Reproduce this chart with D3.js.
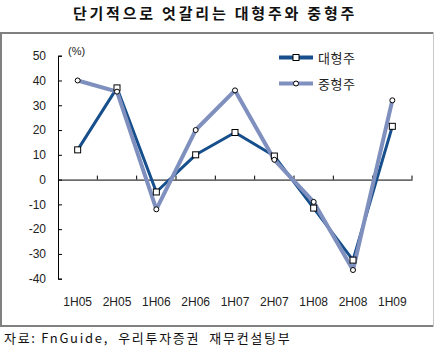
<!DOCTYPE html>
<html>
<head>
<meta charset="utf-8">
<script src="https://cdn.jsdelivr.net/npm/d3@7"></script>
<style>
body { margin: 0; background: #fff; }
text { font-family: "Liberation Sans", Arial, "Noto Sans CJK KR", sans-serif; }
.kr { font-family: "Noto Sans CJK KR", sans-serif; }
</style>
</head>
<body>
<script>
var w = 436;
var h = 359;

// data
var periods = ["1H05", "2H05", "1H06", "2H06", "1H07", "2H07", "1H08", "2H08", "1H09"];
var largeCap = [12, 37, -5, 10, 19, 9.5, -11.5, -32.5, 21.5];
var midCap = [40, 35.5, -12, 20, 36, 8, -9, -36.5, 32];
var yTicks = [50, 40, 30, 20, 10, 0, -10, -20, -30, -40];

var series = [
  {name: "대형주", values: largeCap, color: "#164f8c", width: 3, marker: "square"},
  {name: "중형주", values: midCap, color: "#7f90bf", width: 4, marker: "circle"}
];

var svg = d3.select("body")
            .append("svg")
            .attr("width", w)
            .attr("height", h);

// title
svg.append("text")
   .attr("class", "kr")
   .attr("x", 215)
   .attr("y", 19)
   .attr("text-anchor", "middle")
   .style("font-size", "15px")
   .style("font-weight", "bold")
   .style("letter-spacing", "2.8px")
   .style("white-space", "pre")
   .attr("fill", "#111")
   .text("단기적으로 엇갈리는 대형주와 중형주");

// frame
svg.append("line").attr("x1", 0).attr("x2", 434).attr("y1", 33).attr("y2", 33)
   .style("stroke", "#808080").style("stroke-width", 2);
svg.append("line").attr("x1", 1).attr("x2", 1).attr("y1", 32).attr("y2", 327)
   .style("stroke", "#808080").style("stroke-width", 2);
svg.append("line").attr("x1", 0).attr("x2", 434).attr("y1", 326).attr("y2", 326)
   .style("stroke", "#808080").style("stroke-width", 2);
svg.append("line").attr("x1", 433.5).attr("x2", 433.5).attr("y1", 32).attr("y2", 327)
   .style("stroke", "#c8c8c8").style("stroke-width", 1);

// scales
var x = d3.scaleBand().domain(periods).range([58, 412]);
var y = d3.scaleLinear().domain([-40, 50]).range([278.7, 55.7]);

// y axis
var yAxis = d3.axisLeft(y).tickValues(yTicks).tickSize(-4).tickPadding(0)
  .tickFormat(function(d) { return String(d); });
var gy = svg.append("g").attr("transform", "translate(58,0)").call(yAxis);
gy.select(".domain").attr("stroke", "#000");
gy.selectAll(".tick line").attr("stroke", "#000");
gy.selectAll(".tick text")
  .attr("x", -12)
  .style("font-size", "12px")
  .attr("fill", "#222");

// x axis at zero
var xAxis = d3.axisBottom(x).tickSize(0).tickFormat("");
var gx = svg.append("g").attr("transform", "translate(0," + y(0) + ")").call(xAxis);
gx.select(".domain").attr("stroke", "#000");
gx.selectAll(".bound")
  .data(periods)
  .enter()
  .append("line")
  .attr("x1", function(d) { return x(d) + x.bandwidth(); })
  .attr("x2", function(d) { return x(d) + x.bandwidth(); })
  .attr("y1", 0)
  .attr("y2", -4)
  .attr("stroke", "#000");

// x labels at bottom
svg.selectAll(".xlab")
   .data(periods)
   .enter()
   .append("text")
   .attr("x", function(d) { return x(d) + x.bandwidth() / 2; })
   .attr("y", 306)
   .attr("text-anchor", "middle")
   .style("font-size", "12px")
   .attr("fill", "#222")
   .text(function(d) { return d; });

// unit
svg.append("text")
   .attr("x", 68)
   .attr("y", 55)
   .style("font-size", "11px")
   .attr("fill", "#222")
   .text("(%)");

// lines
var line = d3.line()
  .x(function(d, i) { return x(periods[i]) + x.bandwidth() / 2; })
  .y(function(d) { return y(d); });

series.forEach(function(s) {
  svg.append("path")
     .datum(s.values)
     .attr("d", line)
     .attr("fill", "none")
     .attr("stroke", s.color)
     .attr("stroke-width", s.width)
     .attr("stroke-linejoin", "round");
});

series.forEach(function(s) {
  var pts = svg.selectAll(".m-" + s.marker)
     .data(s.values)
     .enter();
  if (s.marker === "square") {
    pts.append("rect")
       .attr("x", function(d, i) { return x(periods[i]) + x.bandwidth() / 2 - 3; })
       .attr("y", function(d) { return y(d) - 3; })
       .attr("width", 6)
       .attr("height", 6)
       .attr("fill", "#fff")
       .attr("stroke", "#000")
       .attr("stroke-width", 1);
  } else {
    pts.append("circle")
       .attr("cx", function(d, i) { return x(periods[i]) + x.bandwidth() / 2; })
       .attr("cy", function(d) { return y(d); })
       .attr("r", 2.5)
       .attr("fill", "#fff")
       .attr("stroke", "#000")
       .attr("stroke-width", 1);
  }
});

// legend
var legend = svg.selectAll(".legend")
  .data(series)
  .enter()
  .append("g")
  .attr("transform", function(d, i) { return "translate(279," + (57.5 + i * 26) + ")"; });

legend.append("line")
  .attr("x1", 0).attr("x2", 34).attr("y1", 0).attr("y2", 0)
  .attr("stroke", function(d) { return d.color; })
  .attr("stroke-width", 4);

legend.each(function(d) {
  var g = d3.select(this);
  if (d.marker === "square") {
    g.append("rect").attr("x", 14).attr("y", -3).attr("width", 6).attr("height", 6)
     .attr("fill", "#fff").attr("stroke", "#000");
  } else {
    g.append("circle").attr("cx", 17).attr("cy", 0).attr("r", 2.5)
     .attr("fill", "#fff").attr("stroke", "#000");
  }
});

legend.append("text")
  .attr("class", "kr")
  .attr("x", 39)
  .attr("y", 5)
  .style("font-size", "13px")
  .style("letter-spacing", "0.5px")
  .attr("fill", "#222")
  .text(function(d) { return d.name; });

// source
svg.append("text")
   .attr("class", "kr")
   .attr("x", 4)
   .attr("y", 343)
   .style("font-size", "13px")
   .style("letter-spacing", "1.7px")
   .style("white-space", "pre")
   .attr("fill", "#111")
   .text("자료: FnGuide,  우리투자증권  재무컨설팅부");
</script>
</body>
</html>
